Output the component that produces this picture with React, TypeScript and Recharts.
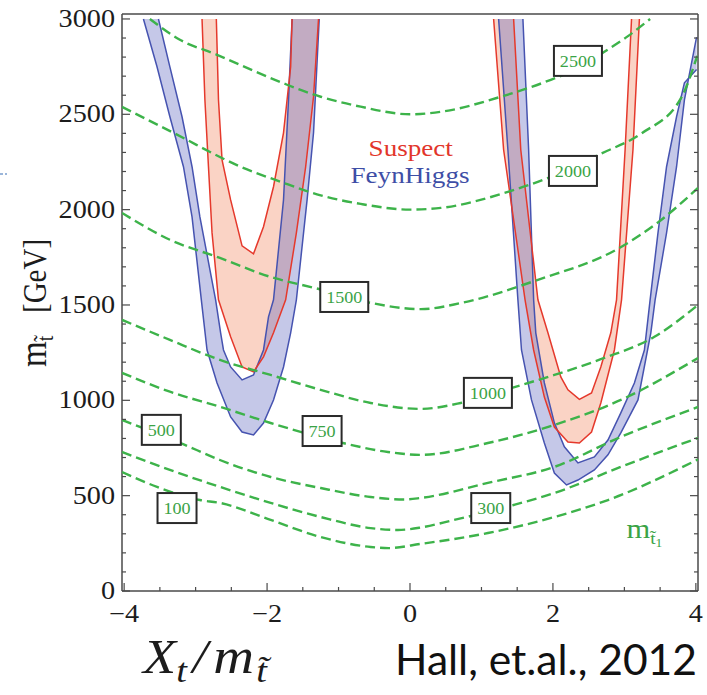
import React from 'react';
import { ComposedChart, Scatter, XAxis, YAxis } from 'recharts';

type XY = [number, number];

// ---- axes -------------------------------------------------------------
const X_DOMAIN: [number, number] = [-4.03, 4.03];
const Y_DOMAIN: [number, number] = [0, 3026];
const X_TICKS = [-4, -3.5, -3, -2.5, -2, -1.5, -1, -0.5, 0, 0.5, 1, 1.5, 2, 2.5, 3, 3.5, 4];
const X_TICK_LABELS = [-4, -2, 0, 2, 4];
const Y_TICKS = [
  0, 100, 200, 300, 400, 500, 600, 700, 800, 900, 1000, 1100, 1200, 1300, 1400, 1500,
  1600, 1700, 1800, 1900, 2000, 2100, 2200, 2300, 2400, 2500, 2600, 2700, 2800, 2900, 3000,
];
const Y_TICK_LABELS = [0, 500, 1000, 1500, 2000, 2500, 3000];

// ---- light stop mass contours (m_stop1 in GeV) ------------------------
const STOP1_100: XY[] = [[-4.03, 624], [-3.54, 546], [-2.94, 477], [-2.66, 462], [-1.95, 373], [-1.25, 283], [-0.55, 231], [-0.3, 225], [0.15, 247], [1.09, 304], [2.02, 388], [2.77, 477], [4.03, 690]];
const STOP1_300: XY[] = [[-4.03, 729], [-3.36, 635], [-2.66, 546], [-1.95, 462], [-1.25, 388], [-0.55, 330], [-0.17, 320], [0.15, 333], [0.61, 372], [1.45, 451], [2.02, 514], [2.95, 651], [4.03, 803]];
const STOP1_500: XY[] = [[-4.03, 897], [-3.21, 776], [-2.66, 687], [-1.95, 598], [-1.25, 540], [-0.55, 493], [-0.09, 480], [0.15, 488], [1.09, 567], [2.02, 651], [2.95, 808], [4.03, 965]];
const STOP1_750: XY[] = [[-4.03, 1144], [-3.36, 1045], [-2.66, 966], [-1.95, 881], [-0.94, 776], [-0.31, 729], [0.15, 714], [1.09, 776], [2.02, 871], [2.95, 1002], [4.03, 1222]];
const STOP1_1000: XY[] = [[-4.03, 1422], [-3.36, 1317], [-2.66, 1212], [-1.95, 1133], [-1.25, 1055], [-0.55, 986], [0.15, 955], [0.71, 986], [1.45, 1068], [2.02, 1133], [2.72, 1222], [3.42, 1333], [4.03, 1500]];
const STOP1_1500: XY[] = [[-4.03, 1983], [-3.36, 1842], [-2.66, 1747], [-1.95, 1647], [-1.29, 1585], [-0.55, 1511], [0.15, 1478], [0.71, 1510], [1.79, 1632], [2.91, 1795], [3.47, 1933], [4.03, 2114]];
const STOP1_2000: XY[] = [[-4.03, 2539], [-3.31, 2403], [-2.37, 2225], [-1.81, 2146], [-1.25, 2075], [-0.69, 2030], [0, 2000], [0.43, 2009], [1.37, 2093], [1.97, 2172], [2.67, 2293], [3.24, 2400], [3.8, 2590], [4.02, 2807]];
const STOP1_2500: XY[] = [[-3.64, 3000], [-3.22, 2891], [-2.7, 2812], [-2.2, 2730], [-1.72, 2655], [-1.25, 2592], [-0.69, 2540], [0, 2500], [0.43, 2513], [1.27, 2592], [1.97, 2681], [2.4, 2750], [2.72, 2828], [3.05, 2910], [3.36, 3000]];

const CONTOURS = [STOP1_100, STOP1_300, STOP1_500, STOP1_750, STOP1_1000, STOP1_1500, STOP1_2000, STOP1_2500];

const CONTOUR_LABELS = [
  { x: -3.26, y: 435, text: '100' },
  { x: 1.13, y: 435, text: '300' },
  { x: -3.48, y: 845, text: '500' },
  { x: -1.23, y: 839, text: '750' },
  { x: 1.09, y: 1039, text: '1000' },
  { x: -0.92, y: 1542, text: '1500' },
  { x: 2.28, y: 2203, text: '2000' },
  { x: 2.35, y: 2780, text: '2500' },
];

// ---- m_h = 125 GeV bands: Suspect (red) and FeynHiggs (blue) ----------
const RED_LEFT_OUTER: XY[] = [[-2.91, 3000], [-2.87, 2576], [-2.82, 2225], [-2.77, 1878], [-2.68, 1527], [-2.51, 1333], [-2.35, 1175], [-2.19, 1149], [-2.05, 1228], [-1.91, 1354], [-1.74, 1527], [-1.59, 1878], [-1.46, 2225], [-1.35, 2592], [-1.28, 3000]];
const RED_LEFT_INNER: XY[] = [[-2.71, 3000], [-2.68, 2576], [-2.63, 2261], [-2.51, 2051], [-2.35, 1810], [-2.19, 1768], [-2.05, 1910], [-1.91, 2120], [-1.77, 2403], [-1.67, 2749], [-1.65, 3000]];
const RED_RIGHT_OUTER: XY[] = [[1.17, 3000], [1.31, 2314], [1.61, 1527], [1.73, 1264], [1.88, 1017], [2.02, 860], [2.21, 781], [2.37, 776], [2.54, 834], [2.67, 986], [2.86, 1264], [2.96, 1527], [3.12, 2314], [3.21, 3000]];
const RED_RIGHT_INNER: XY[] = [[1.45, 3000], [1.55, 2314], [1.79, 1527], [1.93, 1354], [2.11, 1123], [2.21, 1055], [2.37, 1005], [2.54, 1039], [2.67, 1175], [2.81, 1354], [2.89, 1527], [3.01, 2314], [3.1, 3000]];

const BLUE_LEFT_OUTER: XY[] = [[-3.73, 3000], [-3.54, 2749], [-3.36, 2487], [-3.17, 2225], [-3.05, 1962], [-2.92, 1527], [-2.84, 1264], [-2.7, 1091], [-2.51, 913], [-2.35, 834], [-2.19, 818], [-2.05, 881], [-1.91, 1002], [-1.77, 1175], [-1.67, 1354], [-1.59, 1527], [-1.44, 2051], [-1.35, 2403], [-1.27, 3000]];
const BLUE_LEFT_INNER: XY[] = [[-3.52, 3000], [-3.36, 2749], [-3.19, 2487], [-3.05, 2225], [-2.94, 1962], [-2.72, 1527], [-2.65, 1354], [-2.61, 1264], [-2.51, 1175], [-2.35, 1107], [-2.19, 1133], [-2.05, 1264], [-1.98, 1438], [-1.91, 1527], [-1.77, 2051], [-1.7, 2576], [-1.65, 3000]];
const BLUE_RIGHT_OUTER: XY[] = [[1.24, 3000], [1.37, 2314], [1.51, 1527], [1.56, 1264], [1.7, 1002], [1.88, 776], [2.02, 619], [2.19, 556], [2.35, 582], [2.58, 635], [2.77, 714], [2.95, 829], [3.19, 1002], [3.37, 1354], [3.43, 1527], [3.59, 1878], [3.73, 2225], [3.84, 2576], [4.01, 2905]];
const BLUE_RIGHT_INNER: XY[] = [[1.58, 3000], [1.66, 2314], [1.73, 1527], [1.76, 1354], [1.88, 1091], [2.02, 882], [2.16, 756], [2.35, 672], [2.58, 703], [2.77, 792], [2.95, 934], [3.14, 1091], [3.28, 1264], [3.36, 1527], [3.47, 1878], [3.59, 2225], [3.73, 2487], [3.84, 2665], [4.01, 2735]];

const SERIES_NAMES = [
  { x: 0.01, y: 2282, text: 'Suspect' },
  { x: 0.0, y: 2140, text: 'FeynHiggs' },
];
const CONTOUR_TITLE = [{ x: 3.03, y: 278, text: 'm' }];

// ---- styling ----------------------------------------------------------
const FRAME = '#4a4a4a';
const INK = '#1c1c1c';
const SERIF = 'Liberation Serif, Times New Roman, serif';
const STRETCH = 1.13;
const GREEN = '#3db34a';
const GREEN_TEXT = '#3aa346';
const RED_LINE = '#e5392c';
const RED_FILL = '#f6a88c';
const BLUE_LINE = '#4653b0';
const BLUE_FILL = '#5962bd';
const NAME_COLOR: Record<string, string> = { Suspect: '#e2352a', FeynHiggs: '#3e4ea6' };

const toPoints = (list: XY[]) => list.map(([x, y]) => ({ x, y }));
const bandPolygon = (outer: XY[], inner: XY[]) => toPoints([...outer, ...[...inner].reverse()]);
const fmt = (v: number) => (v < 0 ? '\u2212' + Math.abs(v) : String(v));

const Nothing = () => <g />;

function StretchText(props: { x: number; y: number; anchor: 'start' | 'middle' | 'end'; size: number; fill: string; children: React.ReactNode }) {
  const { x, y, anchor, size, fill, children } = props;
  return (
    <text transform={`translate(${x},${y}) scale(${STRETCH},1)`} textAnchor={anchor} fontSize={size} fontFamily={SERIF} fill={fill}>
      {children}
    </text>
  );
}

function BottomTick(props: any) {
  const { x, y, payload } = props;
  const major = X_TICK_LABELS.includes(payload.value);
  return (
    <g>
      <line x1={x} y1={y} x2={x} y2={y - (major ? 8 : 4)} stroke={FRAME} strokeWidth={1.2} />
      {major && (
        <StretchText x={x} y={y + 31} anchor="middle" size={25} fill={INK}>
          {fmt(payload.value)}
        </StretchText>
      )}
    </g>
  );
}

function TopTick(props: any) {
  const { x, y, payload } = props;
  const major = X_TICK_LABELS.includes(payload.value);
  return <line x1={x} y1={y} x2={x} y2={y + (major ? 8 : 4)} stroke={FRAME} strokeWidth={1.2} />;
}

function LeftTick(props: any) {
  const { x, y, payload } = props;
  const major = Y_TICK_LABELS.includes(payload.value);
  return (
    <g>
      <line x1={x} y1={y} x2={x + (major ? 8 : 4)} y2={y} stroke={FRAME} strokeWidth={1.2} />
      {major && (
        <StretchText x={x - 7} y={y + 8} anchor="end" size={25} fill={INK}>
          {fmt(payload.value)}
        </StretchText>
      )}
    </g>
  );
}

function RightTick(props: any) {
  const { x, y, payload } = props;
  const major = Y_TICK_LABELS.includes(payload.value);
  return <line x1={x} y1={y} x2={x - (major ? 8 : 4)} y2={y} stroke={FRAME} strokeWidth={1.2} />;
}

function BoxLabel(props: any) {
  const { cx, cy, payload } = props;
  const w = payload.text.length > 3 ? 48 : 39;
  const h = 30;
  return (
    <g>
      <rect x={cx - w / 2} y={cy - h / 2} width={w} height={h} fill="#ffffff" stroke="#2a2a2a" strokeWidth={2} />
      <StretchText x={cx} y={cy + 6} anchor="middle" size={16} fill={GREEN_TEXT}>
        {payload.text}
      </StretchText>
    </g>
  );
}

function NameLabel(props: any) {
  const { cx, cy, payload } = props;
  return (
    <StretchText x={cx} y={cy} anchor="middle" size={24} fill={NAME_COLOR[payload.text]}>
      {payload.text}
    </StretchText>
  );
}

function ContourTitle(props: any) {
  const { cx, cy, payload } = props;
  return (
    <text transform={`translate(${cx},${cy}) scale(${STRETCH},1)`} fontFamily={SERIF} fill={GREEN_TEXT}>
      <tspan fontSize={27}>{payload.text}</tspan>
      <tspan fontSize={17} dy={6}>{'t\u0303'}</tspan>
      <tspan fontSize={12} dy={3}>1</tspan>
    </text>
  );
}

export default function App() {
  const fills = [
    { key: 'rl', data: bandPolygon(RED_LEFT_OUTER, RED_LEFT_INNER), fill: RED_FILL, op: 0.5 },
    { key: 'rr', data: bandPolygon(RED_RIGHT_OUTER, RED_RIGHT_INNER), fill: RED_FILL, op: 0.5 },
    { key: 'bl', data: bandPolygon(BLUE_LEFT_OUTER, BLUE_LEFT_INNER), fill: BLUE_FILL, op: 0.35 },
    { key: 'br', data: bandPolygon(BLUE_RIGHT_OUTER, BLUE_RIGHT_INNER), fill: BLUE_FILL, op: 0.35 },
  ];
  const edges = [
    { key: 'blo', data: toPoints(BLUE_LEFT_OUTER), color: BLUE_LINE },
    { key: 'bli', data: toPoints(BLUE_LEFT_INNER), color: BLUE_LINE },
    { key: 'bro', data: toPoints(BLUE_RIGHT_OUTER), color: BLUE_LINE },
    { key: 'bri', data: toPoints(BLUE_RIGHT_INNER), color: BLUE_LINE },
    { key: 'rlo', data: toPoints(RED_LEFT_OUTER), color: RED_LINE },
    { key: 'rli', data: toPoints(RED_LEFT_INNER), color: RED_LINE },
    { key: 'rro', data: toPoints(RED_RIGHT_OUTER), color: RED_LINE },
    { key: 'rri', data: toPoints(RED_RIGHT_INNER), color: RED_LINE },
  ];

  return (
    <div style={{ position: 'fixed', left: 0, top: 0, width: 707, height: 695, background: '#ffffff' }}>
      <ComposedChart width={707} height={695} margin={{ top: 13, right: 8, bottom: 64, left: 62 }}>
        <XAxis
          xAxisId={0}
          dataKey="x"
          type="number"
          domain={X_DOMAIN}
          allowDataOverflow
          ticks={X_TICKS}
          interval={0}
          height={40}
          tickSize={0}
          tickMargin={0}
          tickLine={false}
          tick={BottomTick}
          axisLine={{ stroke: FRAME, strokeWidth: 1.5 }}
        />
        <XAxis
          xAxisId="top"
          orientation="top"
          type="number"
          domain={X_DOMAIN}
          allowDataOverflow
          ticks={X_TICKS}
          interval={0}
          height={1}
          tickSize={0}
          tickMargin={0}
          tickLine={false}
          tick={TopTick}
          axisLine={{ stroke: FRAME, strokeWidth: 1.5 }}
        />
        <YAxis
          yAxisId={0}
          dataKey="y"
          type="number"
          domain={Y_DOMAIN}
          allowDataOverflow
          ticks={Y_TICKS}
          interval={0}
          width={60}
          tickSize={0}
          tickMargin={0}
          tickLine={false}
          tick={LeftTick}
          axisLine={{ stroke: FRAME, strokeWidth: 1.5 }}
        />
        <YAxis
          yAxisId="right"
          orientation="right"
          type="number"
          domain={Y_DOMAIN}
          allowDataOverflow
          ticks={Y_TICKS}
          interval={0}
          width={1}
          tickSize={0}
          tickMargin={0}
          tickLine={false}
          tick={RightTick}
          axisLine={{ stroke: FRAME, strokeWidth: 1.5 }}
        />

        {fills.map((f) => (
          <Scatter
            key={f.key}
            data={f.data}
            shape={Nothing}
            line={{ fill: f.fill, fillOpacity: f.op, stroke: 'none' }}
            lineJointType="linear"
            isAnimationActive={false}
          />
        ))}
        {edges.map((e) => (
          <Scatter
            key={e.key}
            data={e.data}
            shape={Nothing}
            line={{ fill: 'none', stroke: e.color, strokeWidth: 1.5 }}
            lineJointType="linear"
            isAnimationActive={false}
          />
        ))}
        {CONTOURS.map((c, i) => (
          <Scatter
            key={'c' + i}
            data={toPoints(c)}
            shape={Nothing}
            line={{ fill: 'none', stroke: GREEN, strokeWidth: 2.4, strokeDasharray: '10 5' }}
            lineJointType="monotoneX"
            isAnimationActive={false}
          />
        ))}
        <Scatter data={CONTOUR_LABELS} shape={BoxLabel} isAnimationActive={false} />
        <Scatter data={SERIES_NAMES} shape={NameLabel} isAnimationActive={false} />
        <Scatter data={CONTOUR_TITLE} shape={ContourTitle} isAnimationActive={false} />
      </ComposedChart>

      <svg width={707} height={695} style={{ position: 'absolute', left: 0, top: 0, pointerEvents: 'none' }}>
        <line x1={0} y1={174} x2={7} y2={174} stroke="#9bb6da" strokeWidth={2} strokeDasharray="3 2" />
        <g transform={`translate(46,367) scale(${STRETCH},1) rotate(-90)`}>
          <text fontFamily={SERIF} fill={INK}>
            <tspan fontSize={33}>m</tspan>
            <tspan fontSize={20} dy={6}>{'t\u0303'}</tspan>
            <tspan fontSize={29} x={54} dy={-6}>[GeV]</tspan>
          </text>
        </g>
        <g transform={`translate(143,673) scale(${STRETCH},1)`}>
          <text fontFamily={SERIF} fontStyle="italic" fill={INK}>
            <tspan fontSize={48}>X</tspan>
            <tspan fontSize={34} dy={9}>t</tspan>
            <tspan fontSize={48} dy={-9} dx={5}>/</tspan>
            <tspan fontSize={50} dx={5}>m</tspan>
            <tspan fontSize={34} dy={9} dx={2}>{'t\u0303'}</tspan>
          </text>
        </g>
        <text
          x={395}
          y={675}
          fontFamily="Lato, 'Open Sans', sans-serif"
          fontSize={42}
          textLength={302}
          lengthAdjust="spacingAndGlyphs"
          fill="#111111"
        >
          Hall, et.al., 2012
        </text>
      </svg>
    </div>
  );
}
